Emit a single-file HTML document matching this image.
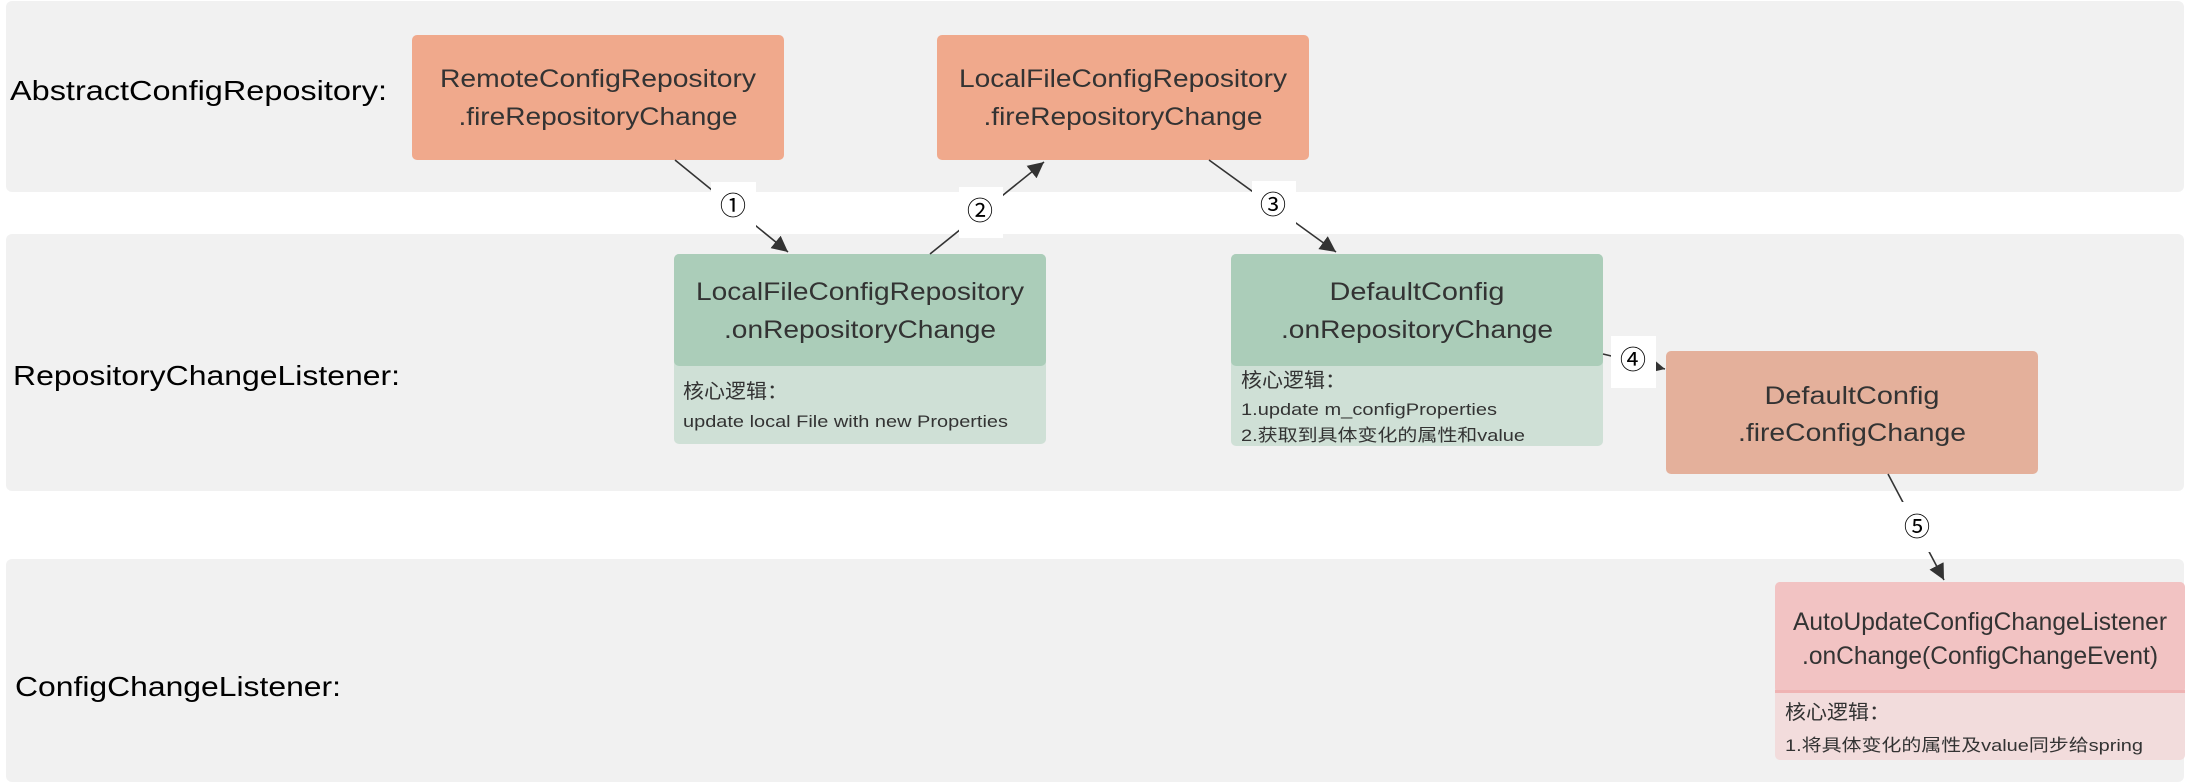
<!DOCTYPE html>
<html><head><meta charset="utf-8"><style>
html,body{margin:0;padding:0;background:#fff;}
svg{display:block;}
text{font-family:"Liberation Sans","Noto Sans CJK SC",sans-serif;fill:#333;}
.lbl{fill:#000;font-size:28px;}
.bx{font-size:25px;text-anchor:middle;}
.sub{font-size:17px;}
.subh{font-size:20px;}
.num{font-size:26px;fill:#000;text-anchor:middle;}
</style></head><body>
<svg width="2186" height="784" viewBox="0 0 2186 784" xmlns="http://www.w3.org/2000/svg">
<defs>
<marker id="ah" markerWidth="16" markerHeight="16" refX="10" refY="5" orient="auto" markerUnits="userSpaceOnUse" viewBox="0 0 10 10">
<path d="M0,0 L10,5 L0,10 z" fill="#333"/></marker>
</defs>
<rect x="6" y="1" width="2178" height="191" rx="6" fill="#f1f1f1"/>
<rect x="6" y="234" width="2178" height="257" rx="6" fill="#f1f1f1"/>
<rect x="6" y="559" width="2178" height="223" rx="6" fill="#f1f1f1"/>

<text class="lbl" x="10" y="100" textLength="377" lengthAdjust="spacingAndGlyphs">AbstractConfigRepository:</text>
<text class="lbl" x="13" y="385" textLength="387" lengthAdjust="spacingAndGlyphs">RepositoryChangeListener:</text>
<text class="lbl" x="15" y="696" textLength="326" lengthAdjust="spacingAndGlyphs">ConfigChangeListener:</text>

<rect x="412" y="35" width="372" height="125" rx="5" fill="#f0a98c"/>
<text class="bx" x="598" y="87" textLength="316" lengthAdjust="spacingAndGlyphs">RemoteConfigRepository</text>
<text class="bx" x="598" y="125" textLength="279" lengthAdjust="spacingAndGlyphs">.fireRepositoryChange</text>

<rect x="937" y="35" width="372" height="125" rx="5" fill="#f0a98c"/>
<text class="bx" x="1123" y="87" textLength="328" lengthAdjust="spacingAndGlyphs">LocalFileConfigRepository</text>
<text class="bx" x="1123" y="125" textLength="279" lengthAdjust="spacingAndGlyphs">.fireRepositoryChange</text>

<rect x="674" y="254" width="372" height="190" rx="5" fill="#cfe0d6"/>
<rect x="674" y="254" width="372" height="112" rx="5" fill="#abcdb9"/>
<text class="bx" x="860" y="300" textLength="328" lengthAdjust="spacingAndGlyphs">LocalFileConfigRepository</text>
<text class="bx" x="860" y="338" textLength="272" lengthAdjust="spacingAndGlyphs">.onRepositoryChange</text>
<text class="subh" x="683" y="398" textLength="105" lengthAdjust="spacingAndGlyphs">核心逻辑：</text>
<text class="sub" x="683" y="427" textLength="325" lengthAdjust="spacingAndGlyphs">update local File with new Properties</text>

<rect x="1231" y="254" width="372" height="192" rx="5" fill="#cfe0d6"/>
<rect x="1231" y="254" width="372" height="112" rx="5" fill="#abcdb9"/>
<text class="bx" x="1417" y="300" textLength="175" lengthAdjust="spacingAndGlyphs">DefaultConfig</text>
<text class="bx" x="1417" y="338" textLength="272" lengthAdjust="spacingAndGlyphs">.onRepositoryChange</text>
<text class="subh" x="1241" y="387" textLength="105" lengthAdjust="spacingAndGlyphs">核心逻辑：</text>
<text class="sub" x="1241" y="415" textLength="256" lengthAdjust="spacingAndGlyphs">1.update m_configProperties</text>
<text class="sub" x="1241" y="441" textLength="284" lengthAdjust="spacingAndGlyphs">2.获取到具体变化的属性和value</text>

<rect x="1666" y="351" width="372" height="123" rx="5" fill="#e4b09b"/>
<text class="bx" x="1852" y="404" textLength="175" lengthAdjust="spacingAndGlyphs">DefaultConfig</text>
<text class="bx" x="1852" y="441" textLength="228" lengthAdjust="spacingAndGlyphs">.fireConfigChange</text>

<rect x="1775" y="582" width="410" height="178" rx="5" fill="#f2dcdc"/>
<rect x="1775" y="582" width="410" height="111" rx="5" fill="#f2c3c3"/>
<rect x="1775" y="690" width="410" height="3" fill="#efb3b3"/>
<text class="bx" x="1980" y="630" textLength="374" lengthAdjust="spacingAndGlyphs">AutoUpdateConfigChangeListener</text>
<text class="bx" x="1980" y="664" textLength="356" lengthAdjust="spacingAndGlyphs">.onChange(ConfigChangeEvent)</text>
<text class="subh" x="1785" y="719" textLength="105" lengthAdjust="spacingAndGlyphs">核心逻辑：</text>
<text class="sub" x="1785" y="751" textLength="358" lengthAdjust="spacingAndGlyphs">1.将具体变化的属性及value同步给spring</text>

<g stroke="#333" stroke-width="1.6" fill="none">
<line x1="675" y1="160" x2="788" y2="252" marker-end="url(#ah)"/>
<line x1="930" y1="254" x2="1044" y2="162" marker-end="url(#ah)"/>
<line x1="1209" y1="160" x2="1336" y2="252" marker-end="url(#ah)"/>
<line x1="1603" y1="354" x2="1665" y2="369" marker-end="url(#ah)"/>
<line x1="1888" y1="474" x2="1944" y2="580" marker-end="url(#ah)"/>
</g>
<rect x="711" y="182" width="45" height="48" fill="#fff"/>
<text class="num" x="733" y="215">①</text>
<rect x="959" y="187" width="44" height="51" fill="#fff"/>
<text class="num" x="980" y="220">②</text>
<rect x="1252" y="181" width="44" height="49" fill="#fff"/>
<text class="num" x="1273" y="214">③</text>
<rect x="1611" y="336" width="45" height="52" fill="#fff"/>
<text class="num" x="1633" y="369">④</text>
<rect x="1895" y="502" width="44" height="50" fill="#fff"/>
<text class="num" x="1917" y="536">⑤</text>
</svg>
</body></html>
